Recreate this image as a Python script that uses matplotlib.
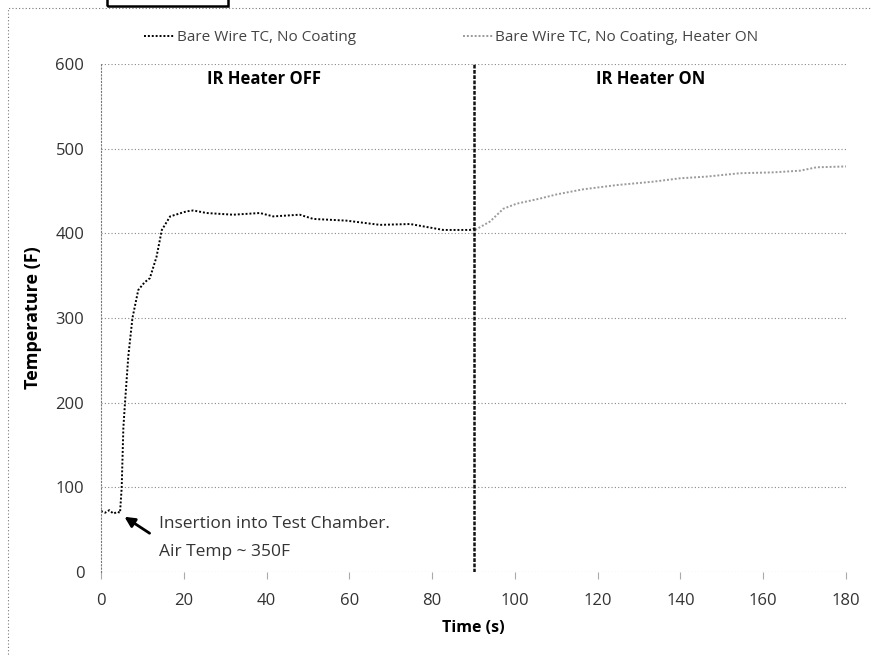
import matplotlib.pyplot as plt
from matplotlib.patches import Rectangle

plt.rcParams['font.family'] = ['Open Sans', 'DejaVu Sans']

# Bare wire TC, heater off (0-90 s)
t_off = [0, 1, 2, 3, 4, 4.6, 5.0, 5.4, 5.8, 6.6, 7.6, 9.0, 10.5, 11.8, 13.4, 14.7, 16.7,
         20.7, 22.3, 25.5, 31.9, 38.4, 41.6, 48.0, 51.3, 59.3, 67.4, 74.7, 82.7, 89.1, 90.4]
temp_off = [72, 70, 73, 69, 71, 70, 100, 170, 200, 255, 300, 333, 342, 347, 372, 404, 420,
            426, 427, 424, 422, 424, 420, 422, 417, 415, 410, 411, 404, 404, 406]

# Bare wire TC, heater on (90-180 s)
t_on = [90.4, 94.0, 97.2, 100.4, 106.0, 110.1, 116.5, 124.6, 133.4, 139.9, 146.3,
        154.4, 162.4, 168.9, 172.9, 180.0]
temp_on = [404, 414, 429, 435, 441, 446, 452, 457, 461, 465, 467, 471, 472, 474, 478, 479]

fig = plt.figure(figsize=(8.72, 6.56), dpi=100)
ax = fig.add_axes([101 / 872, 1 - 572 / 656, 745 / 872, 508 / 656])

# outer dotted frame and the clipped label box at the top
fig.patches.append(Rectangle((8 / 872, -0.1), 1.2, 1 - 8 / 656 + 0.1, transform=fig.transFigure,
                             fill=False, ls=(0, (1, 2)), lw=0.8, ec='#777777'))
fig.patches.append(Rectangle((107 / 872, 1 - 6 / 656), 121 / 872, 0.05, transform=fig.transFigure,
                             fill=False, lw=1.8, ec='black'))

ax.plot(t_off, temp_off, color='black', lw=1.4, ls=(0, (1, 1)), label='Bare Wire TC, No Coating')
ax.plot(t_on, temp_on, color='#9a9a9a', lw=1.4, ls=(0, (1, 1)),
        label='Bare Wire TC, No Coating, Heater ON')

ax.axvline(90, color='#111111', lw=1.8, ls=(0, (1.5, 0.6)))

ax.set_xlim(0, 180)
ax.set_ylim(0, 600)
ax.set_xticks(range(0, 181, 20))
ax.set_yticks(range(0, 601, 100))
ax.grid(axis='y', color='#888888', ls=(0, (1, 2)), lw=0.8)
for side in ['top', 'right', 'bottom']:
    ax.spines[side].set_visible(False)
ax.spines['left'].set_linestyle((0, (1, 2)))
ax.spines['left'].set_color('#777777')
ax.tick_params(axis='y', length=0, pad=12, labelsize=12, labelcolor='#333333')
ax.tick_params(axis='x', length=5, color='#aaaaaa', pad=10, labelsize=12, labelcolor='#333333')

ax.set_xlabel('Time (s)', fontsize=11.5, fontweight='bold', labelpad=8)
ax.set_ylabel('Temperature (F)', fontsize=13, fontweight='bold', labelpad=10)

ax.text(39.3, 593, 'IR Heater OFF', fontsize=12, fontweight='bold', ha='center', va='top')
ax.text(132.8, 593, 'IR Heater ON', fontsize=12, fontweight='bold', ha='center', va='top')

ax.annotate('', xy=(5.1, 67), xytext=(12.3, 44),
            arrowprops=dict(arrowstyle='-|>', color='black', lw=2, mutation_scale=15))
ax.text(14.0, 40.5, 'Insertion into Test Chamber.\nAir Temp ~ 350F', fontsize=12.5,
        color='#333333', va='center', linespacing=2.0)

ax.legend(loc='lower center', bbox_to_anchor=(0.47, 1.01), ncol=2, frameon=False,
          fontsize=11, handlelength=2.0, handletextpad=0.1, columnspacing=7,
          labelcolor='#444444')

fig.savefig('out.png', dpi=100)
